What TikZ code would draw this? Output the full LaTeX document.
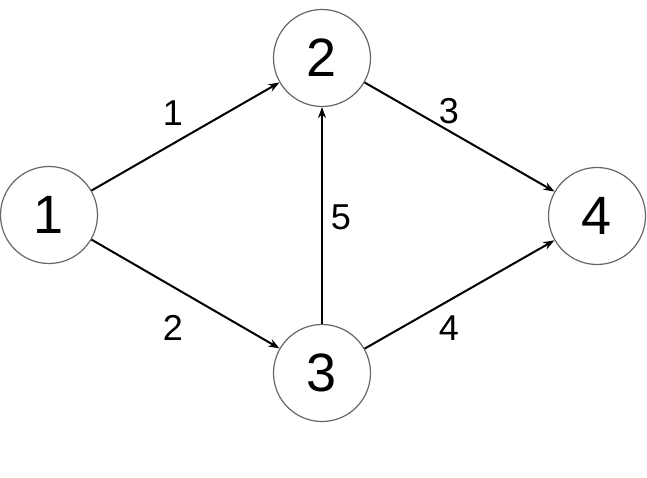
\documentclass[tikz,border=0pt]{standalone}
\usepackage{fontspec}
\setmainfont{Liberation Sans}
\usetikzlibrary{arrows.meta}
\begin{document}
\begin{tikzpicture}[x=1pt,y=-1pt,
  vert/.style={circle,draw=black!60,line width=1.2pt,minimum size=97pt,inner sep=0pt,font=\fontsize{54}{54}\selectfont},
  edge/.style={draw=black,line width=2pt,-{Stealth[length=11pt,width=8pt]}},
  elab/.style={font=\fontsize{36}{36}\selectfont}]
\useasboundingbox (0,0) rectangle (647,478);
\node[vert] (n1) at (49,215) {1};
\node[vert] (n2) at (322,58) {2};
\node[vert] (n3) at (322,373) {3};
\node[vert] (n4) at (597,216) {4};
\draw[edge] (n1) -- (n2);
\draw[edge] (n1) -- (n3);
\draw[edge] (n2) -- (n4);
\draw[edge] (n3) -- (n4);
\draw[edge] (n3) -- (n2);
\node[elab] (l1) at (173,113) {1};
\node[elab] (l2) at (173,328) {2};
\node[elab] (l3) at (449,111) {3};
\node[elab] (l4) at (449,328) {4};
\node[elab] (l5) at (341,217) {5};
\end{tikzpicture}
\end{document}
